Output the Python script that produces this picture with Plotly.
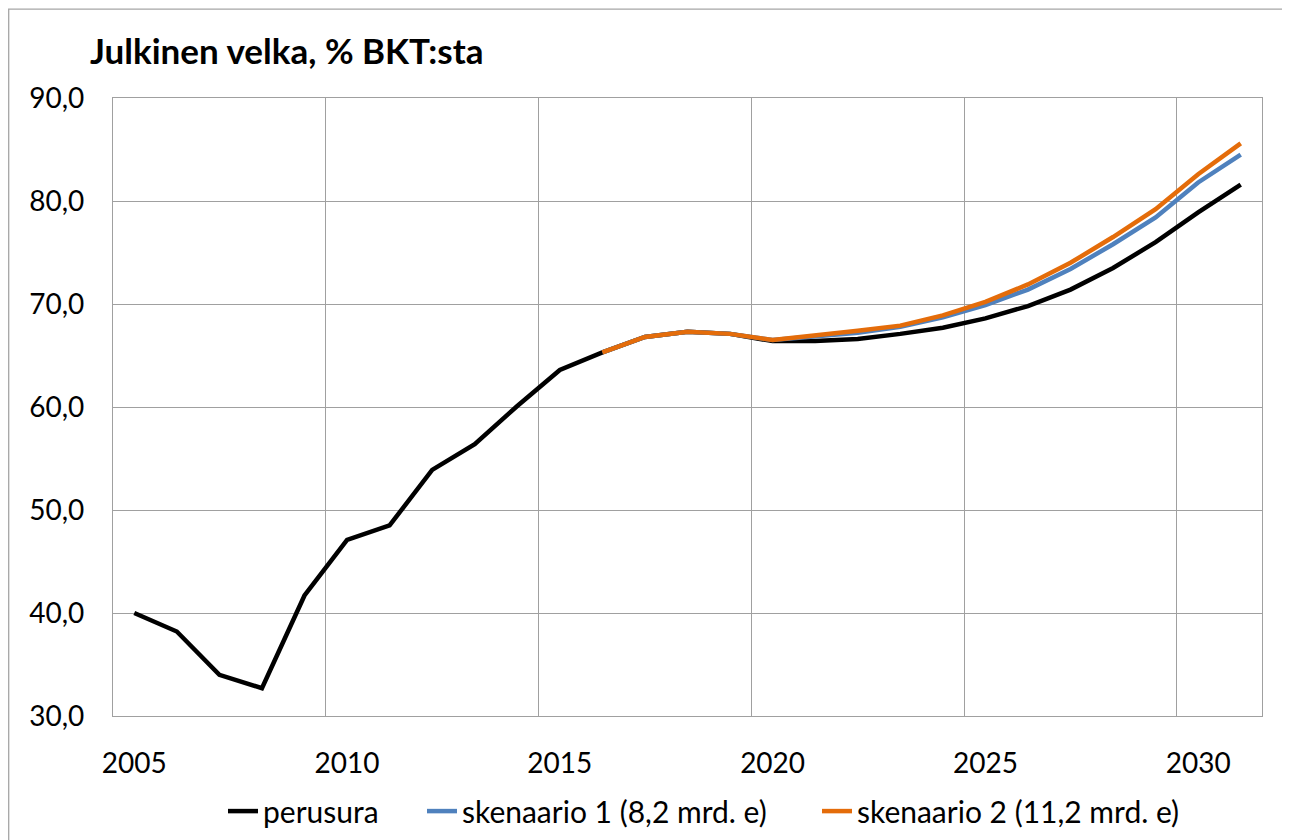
import plotly.graph_objects as go

years = list(range(2005, 2032))
perusura = [40.0, 38.2, 34.0, 32.7, 41.7, 47.1, 48.5, 53.9, 56.4, 60.1, 63.6,
            65.3, 66.8, 67.3, 67.1, 66.4, 66.4, 66.6, 67.1, 67.7, 68.6,
            69.8, 71.4, 73.5, 76.0, 78.9, 81.6]
scen_years = list(range(2016, 2032))
skenaario1 = [65.3, 66.8, 67.3, 67.1, 66.5, 66.8, 67.2, 67.8, 68.7, 69.9,
              71.4, 73.4, 75.8, 78.4, 81.8, 84.5]
skenaario2 = [65.3, 66.8, 67.3, 67.1, 66.5, 66.9, 67.4, 67.9, 68.9, 70.2,
              71.9, 74.0, 76.5, 79.2, 82.6, 85.6]
x_labels = [2005, 2010, 2015, 2020, 2025, 2030]
y_ticks = [30, 40, 50, 60, 70, 80, 90]

names = ["perusura", "skenaario 1 (8,2 mrd. e)", "skenaario 2 (11,2 mrd. e)"]
colors = ["#000000", "#4F81BD", "#E46C0A"]

FONT = "Lato"
GRID = "#A0A0A0"
W, H = 1290, 840
ML, MR, MT, MB = 105, 36, 90, 131
PW = W - ML - MR
PH = H - MT - MB

fig = go.Figure()
fig.add_trace(go.Scatter(x=years, y=perusura, mode="lines", name=names[0],
                         line=dict(color=colors[0], width=4.5), legend="legend"))
fig.add_trace(go.Scatter(x=scen_years, y=skenaario1, mode="lines", name=names[1],
                         line=dict(color=colors[1], width=4.5), legend="legend2"))
fig.add_trace(go.Scatter(x=scen_years, y=skenaario2, mode="lines", name=names[2],
                         line=dict(color=colors[2], width=4.5), legend="legend3"))

leg_y = -0.152
def leg(text_left_px):
    return dict(orientation="h", x=(text_left_px - 8 - 40 - ML) / PW, xanchor="left",
                y=leg_y, yanchor="middle",
                font=dict(family=FONT, size=30, color="black"),
                bgcolor="rgba(0,0,0,0)")

fig.update_layout(
    width=W, height=H,
    margin=dict(l=ML, r=MR, t=MT, b=MB),
    paper_bgcolor="white", plot_bgcolor="white",
    separators=", ",
    font=dict(family=FONT, size=28, color="black"),
    title=dict(text="<b>Julkinen velka, % BKT:sta</b>", xref="container", yref="container",
               x=82/W, xanchor="left", y=1-44/H, yanchor="middle",
               font=dict(family=FONT, size=35, color="black")),
    showlegend=True,
    legend=leg(263), legend2=leg(462), legend3=leg(857),
    xaxis=dict(range=[2004.5, 2031.5], tickmode="array", tickvals=x_labels,
               ticktext=[str(v) for v in x_labels], showgrid=False, zeroline=False,
               showline=True, linecolor=GRID, linewidth=1.3, mirror=True,
               ticks="", ticklabelstandoff=22,
               minor=dict(tickmode="array", tickvals=[2009.5, 2014.5, 2019.5, 2024.5, 2029.5],
                          showgrid=True, gridcolor=GRID, gridwidth=1.3, ticks="")),
    yaxis=dict(range=[30, 90], tickmode="array", tickvals=y_ticks, tickformat=".1f",
               showgrid=True, gridcolor=GRID, gridwidth=1.3, zeroline=False,
               showline=True, linecolor=GRID, linewidth=1.3, mirror=True,
               ticks="", ticklabelstandoff=22),
    shapes=[dict(type="rect", xref="paper", yref="paper",
                 x0=(0.7 - ML) / PW, x1=1.2, y0=-0.5, y1=1 + (MT - 1) / PH,
                 line=dict(color="#A6A6A6", width=1.3), fillcolor="rgba(0,0,0,0)",
                 layer="below")],
)

fig.write_html("out.html")
